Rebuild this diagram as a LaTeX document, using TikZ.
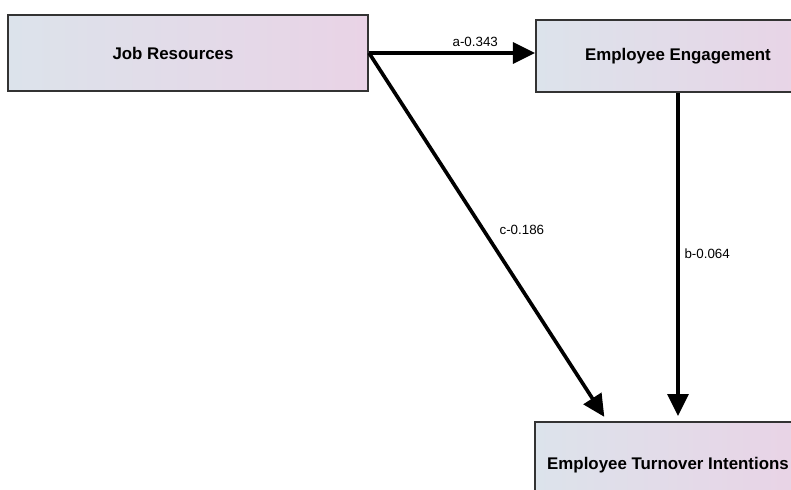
\documentclass[tikz,border=0pt]{standalone}
\usepackage{fontspec}
\setmainfont{Liberation Sans}
\usetikzlibrary{arrows.meta}
\definecolor{boxleft}{RGB}{220,227,235}
\definecolor{boxright}{RGB}{233,211,230}
\begin{document}
\begin{tikzpicture}[x=0.025cm, y=-0.025cm,
    main/.style = {draw=black!80, line width=1.4pt, left color=boxleft, right color=boxright, font=\bfseries\fontsize{12}{14}\selectfont},
    link/.style = {line width=2.6pt, -{Triangle[length=0.55cm, width=0.52cm]}},
    coef/.style = {font=\fontsize{9.5}{11}\selectfont}]
    \useasboundingbox (0,0) rectangle (791,490);
    \clip (0,0) rectangle (791,490);
    \node[main, minimum width=9cm, minimum height=1.9cm] (1) at (188,53) {\hspace*{-0.75cm}Job Resources};
    \node[main, minimum width=7.1cm, minimum height=1.8cm] (2) at (678,56) {Employee Engagement};
    \node[main, minimum width=6.65cm, minimum height=2.15cm] (3) at (668,465) {Employee Turnover Intentions};
    \draw[link] (1.east) -- (1.east -| 2.west) node[coef, above, pos=0.64] {a-0.343};
    \draw[link, shorten >=3.5pt] (1.east) -- ([xshift=1.825cm]3.north west) node[coef, right=7pt, pos=0.48] {c-0.186};
    \draw[link, shorten >=3.5pt] (2.south) -- (2.south |- 3.north) node[coef, right, pos=0.49] {b-0.064};
\end{tikzpicture}
\end{document}
